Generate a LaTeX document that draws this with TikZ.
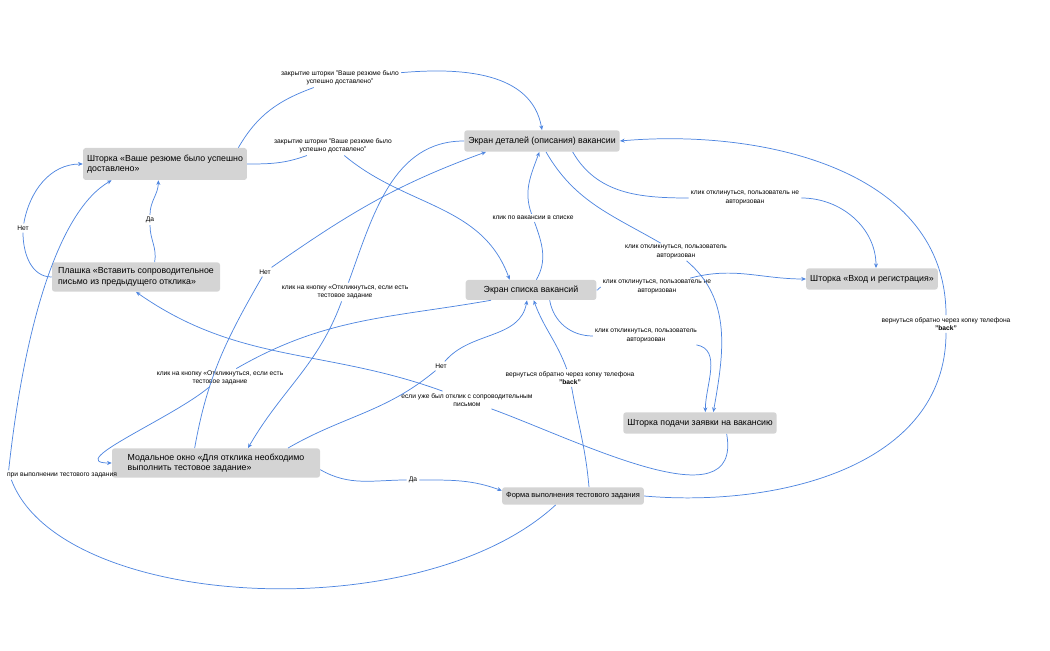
\documentclass[tikz,border=0pt]{standalone}
\usepackage{fontspec}
\setmainfont{Liberation Sans}
\usetikzlibrary{arrows.meta}
\definecolor{ln}{HTML}{4F86E0}
\definecolor{bx}{HTML}{D4D4D4}
\begin{document}
\begin{tikzpicture}[x=0.75pt,y=0.75pt,
 box/.style={fill=bx,rounded corners=2pt,font=\fontsize{6.6}{8}\selectfont,inner sep=3pt,minimum height=16pt},
 bl/.style={box,align=left},
 lb/.style={font=\fontsize{5}{6.2}\selectfont,align=center,inner sep=1.5pt},
 e/.style={draw=ln,line width=0.55pt},
 a/.style={e,-{Stealth[length=3.5pt,width=3pt]}}]
\useasboundingbox (0,0) rectangle (1050,650);
% nodes
\node[bl,minimum width=112pt,minimum height=24pt] (sh) at (165,486) {Шторка «Ваше резюме было успешно\\доставлено»};
\node[bl,minimum width=126pt,minimum height=22pt] (pl) at (136,373) {Плашка «Вставить сопроводительное\\письмо из предыдущего отклика»};
\node[box,minimum width=114pt] (det) at (542,509) {Экран деталей (описания) вакансии};
\node[box,minimum width=98pt,minimum height=15pt] (list) at (531,360) {Экран списка вакансий};
\node[box,minimum width=90pt] (vhod) at (872,371) {Шторка «Вход и регистрация»};
\node[box,minimum width=106pt] (pod) at (700,227) {Шторка подачи заявки на вакансию};
\node[bl,minimum width=156pt,minimum height=22pt] (mod) at (216,187) {Модальное окно «Для отклика необходимо\\выполнить тестовое задание»};
\node[box,minimum width=105pt,minimum height=13pt,font=\fontsize{5.6}{7}\selectfont] (fo) at (573,154) {Форма выполнения тестового задания};
% labels
\node[lb] (L1) at (340,572) {закрытие шторки "Ваше резюме было\\успешно доставлено"};
\node[lb] (L2) at (333,504) {закрытие шторки "Ваше резюме было\\успешно доставлено"};
\node[lb] (L3) at (23,422) {Нет};
\node[lb] (L4) at (150,430) {Да};
\node[lb] (L5) at (62,175) {при выполнении тестового задания};
\node[lb] (L6) at (467,250) {если уже был отклик с сопроводительным\\письмом};
\node[lb] (L7) at (265,378) {Нет};
\node[lb] (L8) at (345,358) {клик на кнопку «Откликнуться, если есть\\тестовое задание};
\node[lb] (L9) at (220,272) {клик на кнопку «Откликнуться, если есть\\тестовое задание};
\node[lb] (L10) at (441,284) {Нет};
\node[lb] (L11) at (533,432) {клик по вакансии в списке};
\node[lb] (L12) at (745,452) {клик отклинуться, пользователь не\\авторизован};
\node[lb] (L13) at (676,398) {клик откликнуться, пользователь\\авторизован};
\node[lb] (L14) at (657,363) {клик отклинуться, пользователь не\\авторизован};
\node[lb] (L15) at (646,314) {клик откликнуться, пользователь\\авторизован};
\node[lb] (L16) at (413,170) {Да};
\node[lb] (L17) at (570,272) {вернуться обратно через копку телефона\\\textbf{"back"}};
\node[lb] (L18) at (946,326) {вернуться обратно через копку телефона\\\textbf{"back"}};
% edges
\draw[e] ([xshift=55]sh.north) to[out=60,in=200] (L1);
\draw[a] (L1) to[out=5,in=100] (det.north);
\draw[e] (sh.east) to[out=0,in=200] (L2);
\draw[a] (L2) to[out=-40,in=110] ([xshift=-16]list.north);
\draw[e] (pl.west) to[out=180,in=-90] (L3);
\draw[a] (L3) to[out=80,in=180] (sh.west);
\draw[e] ([xshift=14]pl.north) to[out=80,in=-90] (L4);
\draw[a] (L4) to[out=90,in=-90] ([xshift=-5]sh.south);
\draw[e] ([xshift=-13]fo.south) .. controls (420,20) and (60,40) .. ([xshift=-38]L5.south);
\draw[a] ([xshift=-40]L5.north) .. controls (25,330) and (60,440) .. ([xshift=-40]sh.south);
\draw[e] ([xshift=20]pod.south) to[out=-80,in=-20] (L6);
\draw[a] (L6) to[out=160,in=-35] (pl.south);
\draw[e] ([xshift=-16]mod.north) to[out=80,in=-120] (L7);
\draw[a] (L7) to[out=35,in=-160] ([xshift=-42]det.south);
\draw[e] (det.west) to[out=180,in=70] (L8);
\draw[a] (L8) to[out=-110,in=60] ([xshift=24]mod.north);
\draw[e] ([xshift=-30]list.south) to[out=190,in=30] (L9);
\draw[a] (L9) to[out=-140,in=180] (mod.west);
\draw[e] ([xshift=54]mod.north) to[out=30,in=-140] (L10);
\draw[a] (L10) to[out=50,in=-100] ([xshift=-3]list.south);
\draw[e] ([xshift=4]list.north) to[out=60,in=-70] (L11);
\draw[a] (L11) to[out=110,in=-110] ([xshift=-2]det.south);
\draw[e] ([xshift=23]det.south) to[out=-60,in=180] (L12);
\draw[a] (L12) to[out=0,in=90] ([xshift=3]vhod.north);
\draw[e] ([xshift=3]det.south) to[out=-60,in=150] (L13);
\draw[a] (L13) to[out=-40,in=80] ([xshift=10]pod.north);
\draw[e] (list.east) to[out=-25,in=180] (L14);
\draw[a] (L14) to[out=15,in=180] (vhod.west);
\draw[e] ([xshift=14]list.south) to[out=-80,in=180] (L15);
\draw[a] (L15) to[out=-10,in=90] ([xshift=4]pod.north);
\draw[e] ([yshift=-5]mod.east) to[out=-30,in=180] (L16);
\draw[a] (L16) to[out=0,in=160] ([yshift=4]fo.west);
\draw[e] ([xshift=12]fo.north) to[out=95,in=-80] (L17);
\draw[a] (L17) to[out=110,in=-70] ([xshift=2]list.south);
\draw[e] (fo.east) to[out=-5,in=-90] (L18);
\draw[a] (L18) to[out=90,in=5] (det.east);
\end{tikzpicture}
\end{document}
